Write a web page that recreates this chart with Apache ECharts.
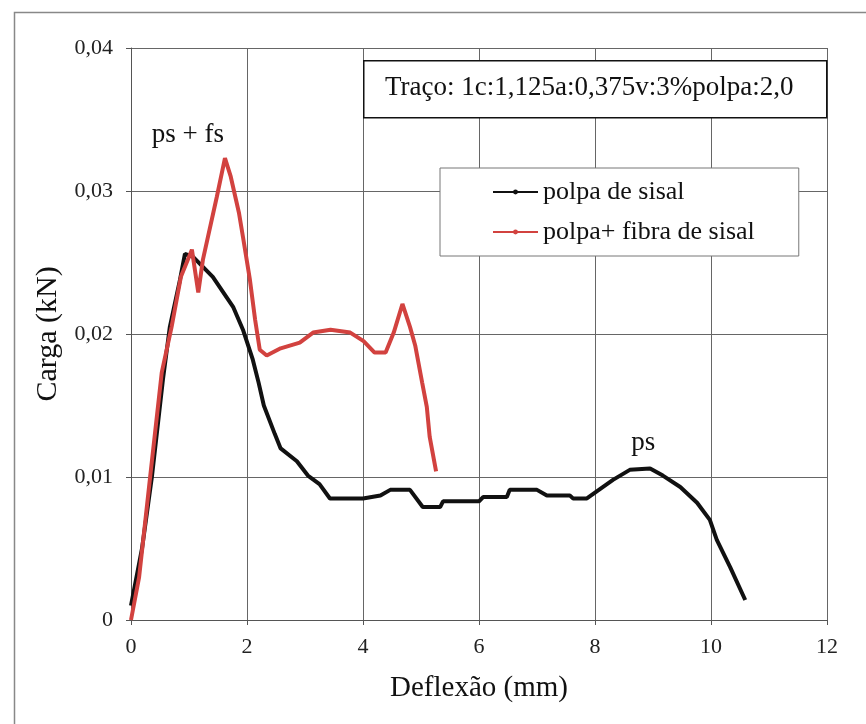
<!DOCTYPE html>
<html>
<head>
<meta charset="utf-8">
<script src="https://cdn.jsdelivr.net/npm/echarts@6/dist/echarts.min.js"></script>
<style>
  html, body { margin: 0; padding: 0; background: #ffffff; }
  #chart { width: 866px; height: 724px; }
</style>
</head>
<body>
<div id="chart"></div>
<script>
// deflexão (mm) x carga (kN)
const polpaX = [0, 0.19, 0.36, 0.55, 0.67, 0.845, 0.93, 1.07, 1.41, 1.76, 1.93, 2.1, 2.2, 2.29, 2.48, 2.58, 2.86, 3.05, 3.25, 3.43, 4.0, 4.3, 4.47, 4.81, 5.03, 5.33, 5.38, 6.0, 6.07, 6.48, 6.53, 7.0, 7.17, 7.57, 7.62, 7.86, 8.03, 8.31, 8.6, 8.95, 9.17, 9.47, 9.76, 9.98, 10.1, 10.33, 10.59];
const polpaY = [0.001, 0.005, 0.01, 0.0168, 0.0205, 0.0238, 0.0256, 0.0254, 0.024, 0.0219, 0.0203, 0.0182, 0.0166, 0.015, 0.013, 0.012, 0.0111, 0.0101, 0.0095, 0.0085, 0.0085, 0.0087, 0.0091, 0.0091, 0.0079, 0.0079, 0.0083, 0.0083, 0.0086, 0.0086, 0.0091, 0.0091, 0.0087, 0.0087, 0.0085, 0.0085, 0.009, 0.0098, 0.0105, 0.0106, 0.0101, 0.0093, 0.0082, 0.007, 0.0056, 0.0037, 0.0014];

const fibraX = [0, 0.14, 0.33, 0.53, 0.7, 0.86, 1.05, 1.16, 1.24, 1.48, 1.62, 1.72, 1.86, 1.93, 2.05, 2.14, 2.22, 2.34, 2.58, 2.91, 3.14, 3.44, 3.78, 4.01, 4.2, 4.39, 4.53, 4.68, 4.81, 4.9, 5.02, 5.1, 5.15, 5.26];
const fibraY = [0, 0.003, 0.01, 0.0173, 0.0205, 0.024, 0.0259, 0.0229, 0.0252, 0.0296, 0.0323, 0.031, 0.0285, 0.0268, 0.0238, 0.021, 0.0189, 0.0185, 0.019, 0.0194, 0.0201, 0.0203, 0.0201, 0.0195, 0.0187, 0.0187, 0.0201, 0.0221, 0.0205, 0.0192, 0.0166, 0.0149, 0.0128, 0.0104];

const xTicks = [0, 2, 4, 6, 8, 10, 12];
const yTicks = [0, 0.01, 0.02, 0.03, 0.04];

const serif = "Liberation Serif";

function pares(xs, ys) {
  return xs.map((x, i) => [x, ys[i]]);
}

const chart = echarts.init(document.getElementById("chart"), null, { renderer: "canvas" });

const option = {
  backgroundColor: "#ffffff",
  animation: false,
  textStyle: { fontFamily: serif },
  grid: { left: 131, right: 39, top: 48, bottom: 104 },
  xAxis: {
    type: "value",
    min: xTicks[0],
    max: xTicks[xTicks.length - 1],
    interval: 2,
    name: "Deflexão (mm)",
    nameLocation: "middle",
    nameGap: 54,
    nameTextStyle: { fontFamily: serif, fontSize: 29, color: "#111" },
    axisLine: { lineStyle: { color: "#555", width: 1 } },
    axisTick: { show: true, length: 5, lineStyle: { color: "#555" } },
    axisLabel: { fontFamily: serif, fontSize: 22, color: "#222", margin: 16 },
    splitLine: { show: true, lineStyle: { color: "#666", width: 1 } }
  },
  yAxis: {
    type: "value",
    min: yTicks[0],
    max: yTicks[yTicks.length - 1],
    interval: 0.01,
    name: "Carga (kN)",
    nameLocation: "middle",
    nameGap: 58,
    nameRotate: 90,
    nameTextStyle: { fontFamily: serif, fontSize: 30, color: "#111" },
    axisLine: { show: true, lineStyle: { color: "#555", width: 1 } },
    axisTick: { show: true, length: 5, lineStyle: { color: "#555" } },
    axisLabel: {
      fontFamily: serif, fontSize: 22, color: "#222", margin: 18,
      formatter: v => (v === 0 ? "0" : v.toFixed(2).replace(".", ","))
    },
    splitLine: { show: true, lineStyle: { color: "#666", width: 1 } }
  },
  legend: {
    orient: "vertical",
    left: 440,
    top: 168,
    padding: [11, 44, 11, 52],
    itemGap: 14,
    itemWidth: 45,
    itemHeight: 6,
    backgroundColor: "#ffffff",
    borderColor: "#777",
    borderWidth: 1,
    borderRadius: 0,
    textStyle: { fontFamily: serif, fontSize: 26, color: "#111", lineHeight: 26 },
    data: ["polpa de sisal", "polpa+ fibra de sisal"]
  },
  graphic: [
    {
      type: "rect",
      left: 12,
      top: 10,
      shape: { width: 900, height: 800 },
      style: { fill: "none", stroke: "#888", lineWidth: 1.5 },
      z: 0
    },
    {
      type: "rect",
      left: 363,
      top: 60,
      shape: { width: 463, height: 57 },
      style: { fill: "#ffffff", stroke: "#111", lineWidth: 1.5 },
      z: 100
    },
    {
      type: "text",
      left: 385,
      top: 74,
      style: {
        text: "Traço: 1c:1,125a:0,375v:3%polpa:2,0",
        font: "27px 'Liberation Serif'",
        fill: "#111"
      },
      z: 101
    }
  ],
  series: [
    {
      name: "polpa de sisal",
      type: "line",
      data: pares(polpaX, polpaY),
      showSymbol: false,
      symbol: "circle",
      symbolSize: 4,
      lineStyle: { color: "#111", width: 4 },
      itemStyle: { color: "#111" },
      z: 3,
      markPoint: {
        symbol: "circle",
        symbolSize: 0,
        label: { show: true, formatter: "ps", fontFamily: serif, fontSize: 27, color: "#111" },
        data: [{ coord: [8.83, 0.0124] }]
      }
    },
    {
      name: "polpa+ fibra de sisal",
      type: "line",
      data: pares(fibraX, fibraY),
      showSymbol: false,
      symbol: "circle",
      symbolSize: 4,
      lineStyle: { color: "#d2423f", width: 4 },
      itemStyle: { color: "#d2423f" },
      z: 4,
      markPoint: {
        symbol: "circle",
        symbolSize: 0,
        label: { show: true, formatter: "ps + fs", fontFamily: serif, fontSize: 27, color: "#111" },
        data: [{ coord: [0.98, 0.0339] }]
      }
    }
  ]
};

chart.setOption(option);
</script>
</body>
</html>
